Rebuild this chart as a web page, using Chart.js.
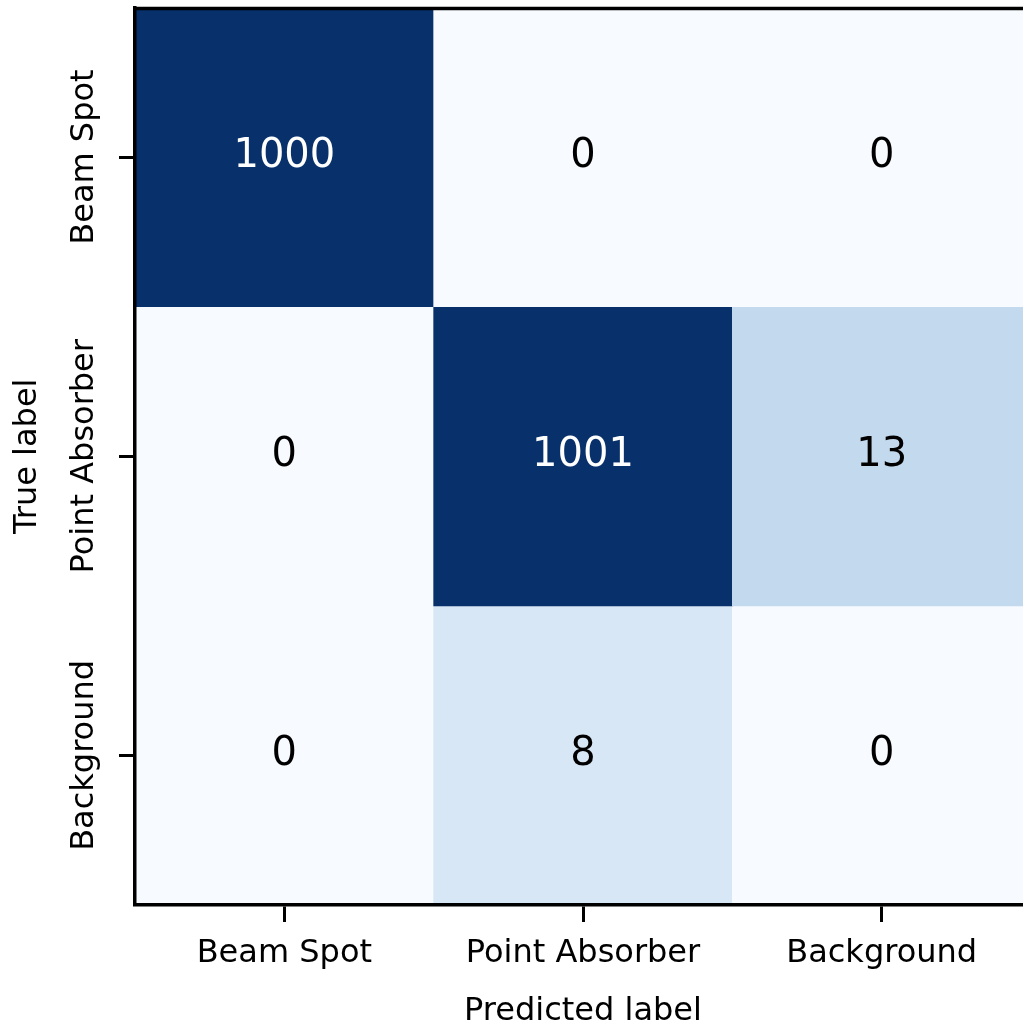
<!DOCTYPE html>
<html>
<head>
<meta charset="utf-8">
<script src="https://cdn.jsdelivr.net/npm/chart.js@4.4.1/dist/chart.umd.min.js"></script>
<style>
  html, body { margin: 0; padding: 0; background: #ffffff; overflow: hidden; }
  #wrap { width: 1040px; height: 1024px; }
</style>
</head>
<body>
<div id="wrap"><canvas id="cm" width="1040" height="1024"></canvas></div>
<script>
// Class names on both axes
const predictedLabels = ['Beam Spot', 'Point Absorber', 'Background'];
const trueLabels = ['Beam Spot', 'Point Absorber', 'Background'];

// Counts, one array per true class (columns follow predictedLabels)
const beamSpotRow = [1000, 0, 0];
const pointAbsorberRow = [0, 1001, 13];
const backgroundRow = [0, 8, 0];
const countRows = [beamSpotRow, pointAbsorberRow, backgroundRow];

// Colour scale upper limit (counts above it saturate)
const colorLimit = 50;

// Sequential "Blues" ramp
const bluesStops = ['#f7fbff', '#deebf7', '#c6dbef', '#9ecae1', '#6baed6',
                    '#4292c6', '#2171b5', '#08519c', '#08306b'];

function hexToRgb(h) {
  return [parseInt(h.slice(1, 3), 16), parseInt(h.slice(3, 5), 16), parseInt(h.slice(5, 7), 16)];
}
function blues(t) {
  t = Math.max(0, Math.min(1, t));
  const pos = t * (bluesStops.length - 1);
  const i = Math.min(Math.floor(pos), bluesStops.length - 2);
  const f = pos - i;
  const a = hexToRgb(bluesStops[i]), b = hexToRgb(bluesStops[i + 1]);
  const c = a.map((v, k) => Math.round(v + (b[k] - v) * f));
  return `rgb(${c[0]},${c[1]},${c[2]})`;
}

Chart.defaults.font.family = "'DejaVu Sans', sans-serif";
Chart.defaults.color = '#000000';

// Each true class becomes one band of floating bars spanning its row
const datasets = countRows.map((row, r) => ({
  label: trueLabels[r],
  data: row.map(() => [r, r + 1]),
  counts: row,
  backgroundColor: row.map(v => blues(v / colorLimit)),
  borderWidth: 0,
  barPercentage: 1,
  categoryPercentage: 1,
  grouped: false
}));

// Writes the count in the middle of every cell
const cellText = {
  id: 'cellText',
  afterDatasetsDraw(chart) {
    const ctx = chart.ctx;
    ctx.save();
    ctx.font = "40px 'DejaVu Sans', sans-serif";
    ctx.textAlign = 'center';
    ctx.textBaseline = 'alphabetic';
    chart.data.datasets.forEach((ds, di) => {
      const meta = chart.getDatasetMeta(di);
      meta.data.forEach((el, i) => {
        const v = ds.counts[i];
        const cy = (el.y + el.base) / 2;
        ctx.fillStyle = v / colorLimit > 0.5 ? '#ffffff' : '#000000';
        ctx.fillText(String(v), el.x, cy + 10);
      });
    });
    ctx.restore();
  }
};

// Frame lines along the top and right of the plot area
const topFrame = {
  id: 'topFrame',
  afterDraw(chart) {
    const { ctx, chartArea } = chart;
    ctx.save();
    ctx.strokeStyle = '#000000';
    ctx.lineWidth = 3.5;
    ctx.beginPath();
    ctx.moveTo(chartArea.left - 2, chartArea.top + 1);
    ctx.lineTo(chartArea.right + 2, chartArea.top + 1);
    ctx.moveTo(chartArea.right, chartArea.top);
    ctx.lineTo(chartArea.right, chartArea.bottom);
    ctx.stroke();
    ctx.restore();
  }
};

new Chart(document.getElementById('cm'), {
  type: 'bar',
  data: { labels: predictedLabels, datasets },
  plugins: [cellText, topFrame],
  options: {
    responsive: false,
    devicePixelRatio: 1,
    animation: false,
    layout: { padding: { top: 7.5, right: 9, left: 0, bottom: 0 } },
    plugins: { legend: { display: false }, tooltip: { enabled: false } },
    scales: {
      x: {
        offset: true,
        grid: { z: 1, offset: false, drawOnChartArea: false, drawTicks: true, tickLength: 17, tickWidth: 3, tickColor: '#000000' },
        border: { z: 1, display: true, color: '#000000', width: 3.5 },
        ticks: { font: { size: 32 }, color: '#000000', padding: 12, maxRotation: 0, minRotation: 0, autoSkip: false },
        title: { display: true, text: 'Predicted label', font: { size: 32 }, color: '#000000', padding: { top: 0, bottom: -7 } },
        afterFit(scale) {
          scale.height = 119;
          scale.paddingLeft = 0;
          scale.paddingRight = 0;
        }
      },
      y: {
        type: 'linear',
        reverse: true,
        min: 0,
        max: 3,
        grid: { z: 1, drawOnChartArea: false, drawTicks: true, tickLength: 16, tickWidth: 3, tickColor: '#000000' },
        border: { z: 1, display: true, color: '#000000', width: 3.5 },
        afterBuildTicks(scale) {
          scale.ticks = trueLabels.map((_, i) => ({ value: i + 0.5 }));
        },
        ticks: {
          font: { size: 32 },
          color: '#000000',
          minRotation: 90,
          maxRotation: 90,
          crossAlign: 'center',
          padding: -83,
          callback: (value) => trueLabels[Math.floor(value)]
        },
        title: { display: true, text: 'True label', font: { size: 32 }, color: '#000000', padding: { top: 8, bottom: 0 } },
        afterFit(scale) {
          scale.width = 135;
          scale.paddingTop = 0;
          scale.paddingBottom = 0;
        }
      }
    }
  }
});
</script>
</body>
</html>
